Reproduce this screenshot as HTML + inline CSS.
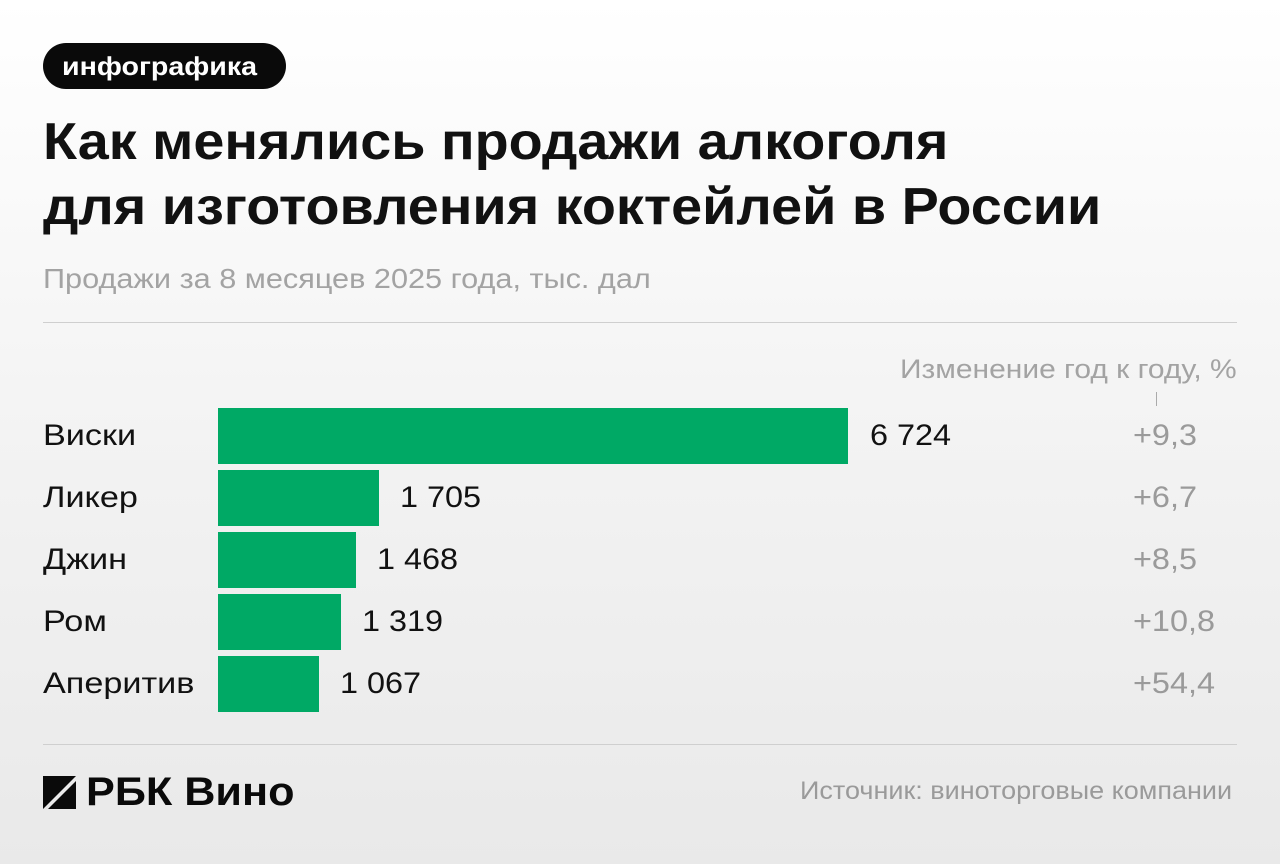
<!DOCTYPE html>
<html><head><meta charset="utf-8"><style>
*{margin:0;padding:0;box-sizing:border-box}
body{width:1280px;height:864px;overflow:hidden;font-family:"Liberation Sans","DejaVu Sans",sans-serif;background:linear-gradient(#ffffff 0%,#f3f3f3 50%,#e9e9e9 100%);position:relative}
.a{position:absolute;white-space:nowrap}
.s{transform-origin:left center}
.badge{left:43px;top:43px;width:243px;height:46px;background:#0a0a0a;border-radius:23px}
.t{left:43px;font-weight:bold;font-size:52px;color:#111;transform:scaleX(1.072)}
.sub{left:43px;top:263px;font-size:28px;color:#a3a3a3;transform:scaleX(1.095)}
.hr{left:43px;width:1194px;height:1px;background:#cfcfcf}
.bar{left:218px;height:56px;background:#00a965}
.lab{left:43px;font-size:30px;color:#111;line-height:56px;transform:scaleX(1.14)}
.val{font-size:30px;color:#111;line-height:56px;transform:scaleX(1.08)}
.pct{left:1133px;font-size:30px;color:#9a9a9a;line-height:56px;transform:scaleX(1.08)}
</style></head><body>
<div class="a badge"></div>
<div class="a s" style="left:62px;top:43px;line-height:46px;color:#fff;font-weight:bold;font-size:26px;transform:scaleX(1.1)">инфографика</div>
<div class="a t s" style="top:112px">Как менялись продажи алкоголя</div>
<div class="a t s" style="top:177px">для изготовления коктейлей в России</div>
<div class="a sub s">Продажи за 8 месяцев 2025 года, тыс. дал</div>
<div class="a hr" style="top:322px"></div>
<div class="a s" style="left:900px;top:354px;font-size:27px;color:#a3a3a3;transform:scaleX(1.11)">Изменение год к году, %</div>
<div class="a" style="left:1156px;top:392px;width:1px;height:14px;background:#aaa"></div>

<div class="a bar" style="top:408px;width:630px"></div>
<div class="a lab s" style="top:408px">Виски</div>
<div class="a val s" style="left:870px;top:408px">6 724</div>
<div class="a pct s" style="top:408px">+9,3</div>

<div class="a bar" style="top:470px;width:161px"></div>
<div class="a lab s" style="top:470px">Ликер</div>
<div class="a val s" style="left:400px;top:470px">1 705</div>
<div class="a pct s" style="top:470px">+6,7</div>

<div class="a bar" style="top:532px;width:138px"></div>
<div class="a lab s" style="top:532px">Джин</div>
<div class="a val s" style="left:377px;top:532px">1 468</div>
<div class="a pct s" style="top:532px">+8,5</div>

<div class="a bar" style="top:594px;width:123px"></div>
<div class="a lab s" style="top:594px">Ром</div>
<div class="a val s" style="left:362px;top:594px">1 319</div>
<div class="a pct s" style="top:594px">+10,8</div>

<div class="a bar" style="top:656px;width:101px"></div>
<div class="a lab s" style="top:656px">Аперитив</div>
<div class="a val s" style="left:340px;top:656px">1 067</div>
<div class="a pct s" style="top:656px">+54,4</div>

<div class="a hr" style="top:744px"></div>
<svg class="a" style="left:43px;top:776px" width="33" height="33" viewBox="0 0 33 33"><polygon points="0,0 33,0 0,33" fill="#0a0a0a"/><polygon points="33,5 33,33 5,33" fill="#0a0a0a"/></svg>
<div class="a s" style="left:86px;top:770px;font-size:40px;font-weight:bold;color:#0a0a0a;transform:scaleX(1.08)">РБК Вино</div>
<div class="a s" style="left:800px;top:777px;font-size:25px;color:#9a9a9a;transform:scaleX(1.08)">Источник: виноторговые компании</div>
</body></html>
